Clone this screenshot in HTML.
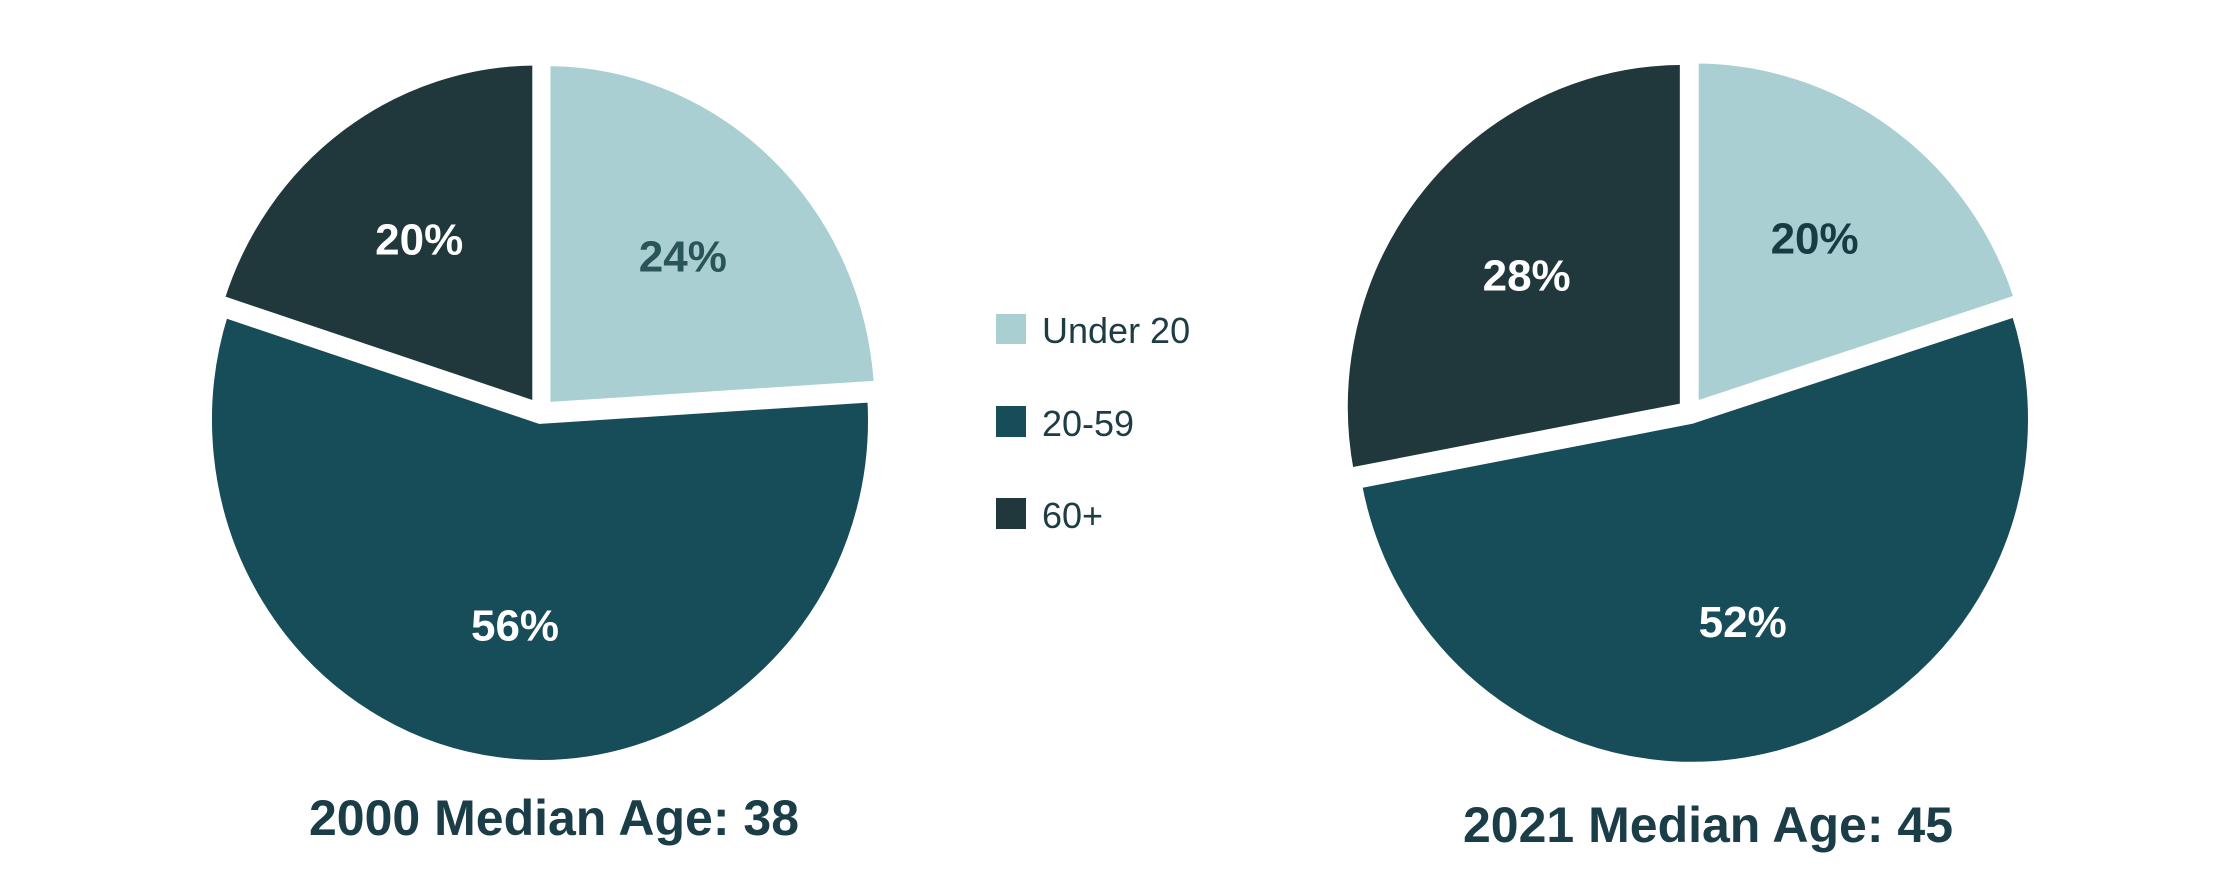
<!DOCTYPE html>
<html><head><meta charset="utf-8"><style>
html,body{margin:0;padding:0;background:#fff;}
svg{display:block;font-family:"Liberation Sans",sans-serif;}
</style></head><body>
<svg id="chart" width="2217" height="869" viewBox="0 0 2217 869" xmlns="http://www.w3.org/2000/svg">
<rect width="2217" height="869" fill="#fff"/>
<g>
 <g><rect x="996" y="314" width="30" height="30" fill="#a9cfd2"/><text x="1042" y="343" font-size="36" fill="#1d3c44">Under 20</text></g>
 <g><rect x="996" y="406" width="30" height="31" fill="#174c59"/><text x="1042" y="436" font-size="36" fill="#1d3c44">20-59</text></g>
 <g><rect x="996" y="498" width="30" height="31" fill="#20383b"/><text x="1042" y="528" font-size="36" fill="#1d3c44">60+</text></g>
</g>
<text x="554" y="835" text-anchor="middle" font-size="50" font-weight="bold" fill="#1a3d47">2000 Median Age: 38</text>
<text x="1708" y="842" text-anchor="middle" font-size="50" font-weight="bold" fill="#1a3d47">2021 Median Age: 45</text>
</svg>
<script>
const categories = ["Under 20", "20-59", "60+"];
const values2000 = [24, 56, 20];
const values2021 = [20, 52, 28];
const labels2000 = ["24%", "56%", "20%"];
const labels2021 = ["20%", "52%", "28%"];
const colors = ["#a9cfd2", "#174c59", "#20383b"];
const labelColors = ["#2a5558", "#ffffff", "#ffffff"];
const labelColors2 = ["#183c44", "#ffffff", "#ffffff"];
const NS = "http://www.w3.org/2000/svg";
const svg = document.getElementById("chart");
function drawPie(vals, labs, lc, cx, cy, rx, ry, name) {
  const total = vals.reduce((a, b) => a + b, 0);
  const g = document.createElementNS(NS, "g");
  
  
  svg.appendChild(g);
  let acc = 0;
  vals.forEach((v, i) => {
    const a0 = acc / total * 2 * Math.PI;
    acc += v;
    const a1 = acc / total * 2 * Math.PI;
    const mid = (a0 + a1) / 2;
    const ex = 8 * Math.sin(mid), ey = -8 * Math.cos(mid);
    const x0 = cx + ex + rx * Math.sin(a0), y0 = cy + ey - ry * Math.cos(a0);
    const x1 = cx + ex + rx * Math.sin(a1), y1 = cy + ey - ry * Math.cos(a1);
    const large = (a1 - a0) > Math.PI ? 1 : 0;
    const p = document.createElementNS(NS, "path");
    
    
    p.setAttribute("d", `M${cx + ex},${cy + ey} L${x0},${y0} A${rx},${ry} 0 ${large} 1 ${x1},${y1} Z`);
    p.setAttribute("fill", colors[i]);
    p.setAttribute("stroke", "#fff");
    p.setAttribute("stroke-width", "8");
    p.setAttribute("stroke-linejoin", "miter");
    g.appendChild(p);
    const lr = 0.6;
    const t = document.createElementNS(NS, "text");
    
    
    t.setAttribute("x", cx + ex + rx * lr * Math.sin(mid));
    t.setAttribute("y", cy + ey - ry * lr * Math.cos(mid) + 16);
    t.setAttribute("text-anchor", "middle");
    t.setAttribute("font-size", "44");
    t.setAttribute("font-weight", "bold");
    t.setAttribute("fill", lc[i]);
    t.textContent = labs[i];
    g.appendChild(t);
  });
}
drawPie(values2000, labels2000, labelColors, 541, 412, 332, 344, "pie-2000");
drawPie(values2021, labels2021, labelColors2, 1690, 412, 340, 346, "pie-2021");
</script>
</body></html>
